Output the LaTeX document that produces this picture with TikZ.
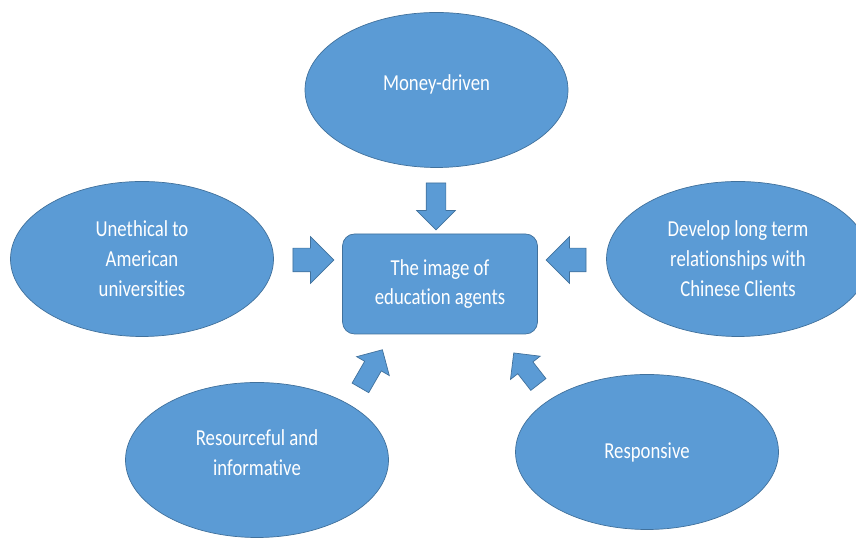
\documentclass[tikz,border=0pt]{standalone}
\usepackage{fontspec}
\setmainfont{Carlito}[FakeStretch=0.82, Ligatures=NoCommon]
\usetikzlibrary{shapes.geometric, shapes.arrows}

\definecolor{bubblefill}{HTML}{5B9BD5}
\definecolor{bubbleedge}{HTML}{41719C}

\tikzset{
  bubble/.style={ellipse, draw=bubbleedge, fill=bubblefill, text=white,
    align=center, inner sep=0pt, minimum width=5.26cm, minimum height=3.1cm,
    font=\fontsize{13}{17}\selectfont},
  lifted/.style={text depth=#1},
  centrebox/.style={rectangle, rounded corners=0.24cm, draw=bubbleedge,
    fill=bubblefill, text=white, align=center, minimum width=3.9cm,
    minimum height=2cm, font=\fontsize{13}{17}\selectfont},
  blockarr/.style 2 args={single arrow, draw=bubbleedge, fill=bubblefill,
    inner xsep=0pt, inner ysep=#2/2, text height=0pt, text depth=0pt,
    minimum height=#1, single arrow head extend=#2/2}
}

\begin{document}
\begin{tikzpicture}
  \useasboundingbox (0,0) rectangle (17.12,10.78);
  % Centre
  \node[centrebox] (image) at (8.80,5.10) {The image of\\education agents};
  % Surrounding views
  \node[bubble, lifted=0.3cm] (money) at (8.73,8.98) {Money-driven};
  \node[bubble] (unethical) at (2.84,5.60) {Unethical to\\American\\universities};
  \node[bubble] (develop) at (14.76,5.60) {Develop long term\\relationships with\\Chinese Clients};
  \node[bubble, lifted=0.3cm] (resourceful) at (5.14,1.58) {Resourceful and\\informative};
  \node[bubble] (responsive) at (12.94,1.74) {Responsive};
  % Block arrows
  \node[blockarr={0.94cm}{0.38cm}, rotate=-90] (arrMoney) at (8.72,6.75) {};
  \node[blockarr={0.82cm}{0.46cm}] (arrUnethical) at (6.15,5.58) {};
  \node[blockarr={0.80cm}{0.46cm}, rotate=180] (arrDevelop) at (11.44,5.58) {};
  \node[blockarr={0.88cm}{0.37cm}, rotate=60] (arrResourceful) at (7.38,3.32) {};
  \node[blockarr={0.80cm}{0.37cm}, rotate=128] (arrResponsive) at (10.58,3.33) {};
\end{tikzpicture}
\end{document}
